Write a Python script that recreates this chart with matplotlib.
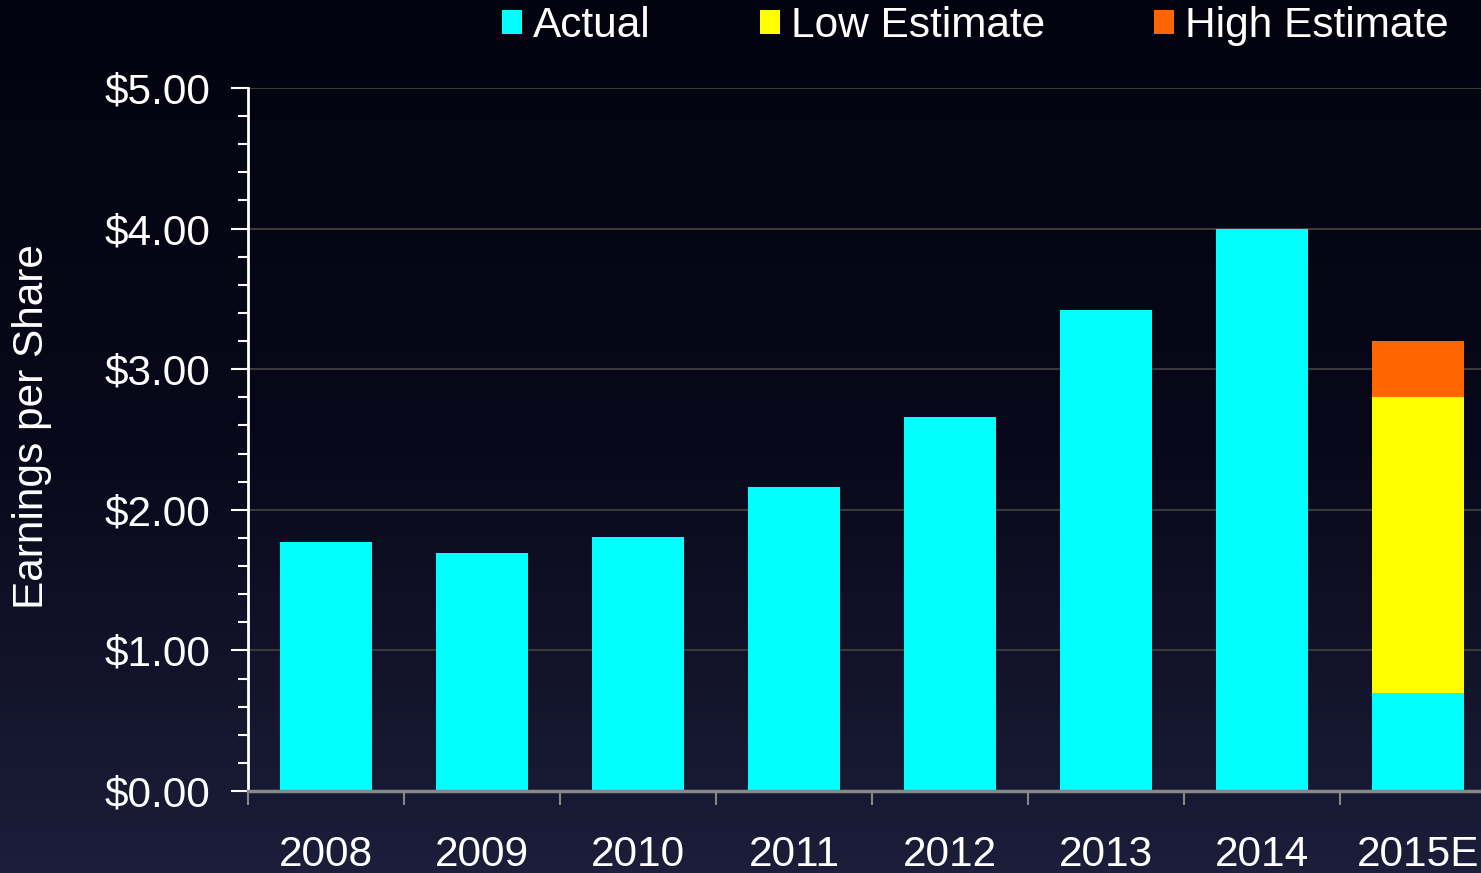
import numpy as np
import matplotlib
matplotlib.use("Agg")
import matplotlib.pyplot as plt
from matplotlib.ticker import MultipleLocator, FixedLocator, NullFormatter

# data
years = ["2008", "2009", "2010", "2011", "2012", "2013", "2014", "2015E"]
actual = [1.77, 1.69, 1.81, 2.16, 2.66, 3.42, 4.00, 0.70]
low_est = [0, 0, 0, 0, 0, 0, 0, 2.80]   # cumulative level of low estimate
high_est = [0, 0, 0, 0, 0, 0, 0, 3.20]  # cumulative level of high estimate
yticks = [0, 1, 2, 3, 4, 5]

plt.rcParams['font.family'] = ['Liberation Sans', 'DejaVu Sans']

fig = plt.figure(figsize=(14.81, 8.73), dpi=100)

# background gradient
bg = fig.add_axes([0, 0, 1, 1])
bg.axis("off")
top = np.array([3, 3, 15]) / 255
mid = np.array([8, 8, 26]) / 255
bot = np.array([28, 30, 58]) / 255
t = np.linspace(0, 1, 256)[:, None]
grad = np.where(t < 0.5, top + (mid - top) * (t / 0.5), mid + (bot - mid) * ((t - 0.5) / 0.5))
bg.imshow(grad[:, None, :].repeat(2, axis=1), aspect="auto", extent=[0, 1, 0, 1])

ax = fig.add_axes([248 / 1481, 1 - 791 / 873, 1248 / 1481, 703 / 873])
ax.set_facecolor("none")

x = np.arange(len(years))
low_seg = [max(l - a, 0) if l > 0 else 0 for l, a in zip(low_est, actual)]
high_seg = [max(h - l, 0) if h > 0 else 0 for h, l in zip(high_est, low_est)]
low_bottom = actual
high_bottom = [a + l for a, l in zip(actual, low_seg)]

w = 0.59
ax.bar(x, actual, width=w, color="#00ffff", label="Actual", zorder=3)
ax.bar(x, low_seg, width=w, bottom=low_bottom, color="#ffff00", label="Low Estimate", zorder=3)
ax.bar(x, high_seg, width=w, bottom=high_bottom, color="#ff6600", label="High Estimate", zorder=3)

ax.set_xlim(-0.5, len(years) - 0.5)
ax.set_ylim(0, 5)

# y axis
ax.yaxis.set_major_locator(FixedLocator(yticks))
ax.yaxis.set_minor_locator(MultipleLocator(0.2))
ax.set_yticklabels(["${:.2f}".format(v) for v in yticks])
ax.tick_params(axis="y", which="major", colors="white", labelcolor="white",
               labelsize=30.5, length=12, width=1.5, pad=15)
ax.tick_params(axis="y", which="minor", colors="white", length=7, width=1.5)
ax.grid(axis="y", which="major", color="#3a3a3a", linewidth=1.5, zorder=0)

# x axis: ticks at boundaries, labels at centers
ax.xaxis.set_major_locator(FixedLocator(np.arange(-0.5, len(years), 1.0)))
ax.xaxis.set_major_formatter(NullFormatter())
ax.xaxis.set_minor_locator(FixedLocator(x))
ax.set_xticklabels(years, minor=True)
ax.tick_params(axis="x", which="major", colors="#888888", length=10, width=1.5)
ax.tick_params(axis="x", which="minor", length=0, labelsize=30.5, labelcolor="white", pad=32)

for s in ["top", "right"]:
    ax.spines[s].set_visible(False)
ax.spines["left"].set_color("white")
ax.spines["left"].set_linewidth(2)
ax.spines["bottom"].set_color("#888888")
ax.spines["bottom"].set_linewidth(2.5)
ax.spines["left"].set_zorder(4)
ax.spines["bottom"].set_zorder(4)

fig.text(32 / 1481, 1 - 427 / 873, "Earnings per Share", rotation=90, color="white",
         fontsize=30.5, ha="center", va="center")

leg = fig.legend(loc="center left", bbox_to_anchor=(502 / 1481, 1 - 26 / 873), ncol=3,
                 frameon=False, fontsize=30.5, handlelength=0.47, handleheight=0.47,
                 handletextpad=0.26, columnspacing=2.58, borderpad=0, borderaxespad=0)
for txt in leg.get_texts():
    txt.set_color("white")

fig.savefig("out.png", dpi=100)
